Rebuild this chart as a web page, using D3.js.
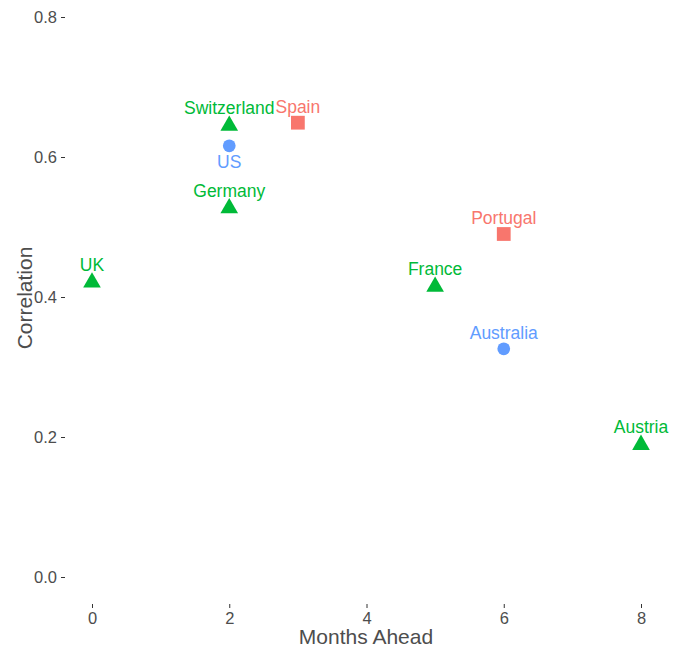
<!DOCTYPE html>
<html><head><meta charset="utf-8">
<script src="https://cdn.jsdelivr.net/npm/d3@7"></script>
<style>body{margin:0;background:#fff}svg{display:block;font-family:"Liberation Sans",Arial,sans-serif}</style>
</head><body>
<svg id="c" width="673" height="654"></svg>
<script>
const countries = ["UK","Switzerland","US","Germany","Spain","Portugal","France","Australia","Austria"];
const monthsAhead = [0,2,2,2,3,6,5,6,8];
const correlation = [0.423,0.647,0.616,0.529,0.649,0.490,0.417,0.326,0.191];
const group = ["B","B","A","B","C","C","B","A","B"];
const labelSide = ["above","above","below","above","above","above","above","above","above"];
const xTicks = [0,2,4,6,8];
const yTicks = [0,0.2,0.4,0.6,0.8];

const colors = {A:"#619CFF",B:"#00BA38",C:"#F8766D"};
const shapes = {A:d3.symbolCircle,B:d3.symbolTriangle,C:d3.symbolSquare};
const sizes = {A:128,B:135,C:190};

const svg = d3.select("#c");
const x = d3.scaleLinear().domain([0,8]).range([92,641]);
const y = d3.scaleLinear().domain([0,0.8]).range([577,17]);

const xAxis = svg.append("g").attr("transform","translate(0,604)")
  .call(d3.axisBottom(x).tickValues(xTicks).tickSize(4).tickPadding(4).tickFormat(d3.format("d")));
const yAxis = svg.append("g").attr("transform","translate(65,0)")
  .call(d3.axisLeft(y).tickValues(yTicks).tickSize(4).tickPadding(4).tickFormat(d3.format(".1f")));
[xAxis,yAxis].forEach(a=>{
  a.select(".domain").remove();
  a.selectAll(".tick line").attr("stroke","#333").attr("stroke-width",1);
  a.selectAll(".tick text").attr("fill","#4d4d4d").style("font-size","16.5px").style("font-family","Liberation Sans, Arial, sans-serif");
});

svg.append("text").attr("x",366).attr("y",644).attr("text-anchor","middle")
  .attr("fill","#4d4d4d").style("font-size","21px").text("Months Ahead");
svg.append("text").attr("transform","translate(32,298) rotate(-90)").attr("text-anchor","middle")
  .attr("fill","#4d4d4d").style("font-size","21px").text("Correlation");

const idx = d3.range(countries.length);
svg.append("g").selectAll("path").data(idx).join("path")
  .attr("transform",i=>`translate(${x(monthsAhead[i])},${y(correlation[i]) + (group[i]==="B"?1.5:0)})`)
  .attr("d",i=>d3.symbol().type(shapes[group[i]]).size(sizes[group[i]])())
  .attr("fill",i=>colors[group[i]]);

svg.append("g").selectAll("text").data(idx).join("text")
  .attr("x",i=>x(monthsAhead[i]))
  .attr("y",i=>y(correlation[i]) + (labelSide[i]==="above"?-10:22))
  .attr("text-anchor","middle")
  .attr("fill",i=>colors[group[i]])
  .style("font-size","17.5px")
  .text(i=>countries[i]);
</script>
</body></html>
